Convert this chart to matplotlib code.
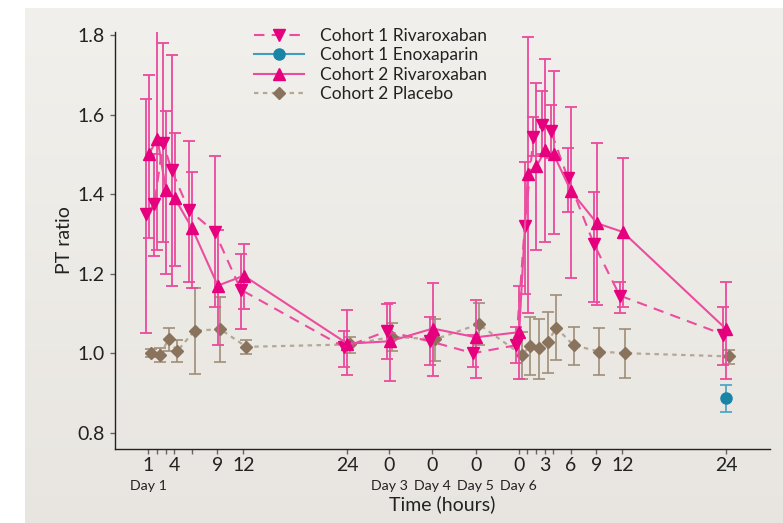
import matplotlib.pyplot as plt
import matplotlib.transforms as mtransforms
import numpy as np

plt.rcParams['font.family'] = ['Lato', 'DejaVu Sans']

# sampling times: study day and hour within that day
days = [1, 1, 1, 1, 1, 1, 1, 1, 3, 4, 5, 6, 6, 6, 6, 6, 6, 6, 6, 6]
hours = [1, 2, 3, 4, 6, 9, 12, 24, 0, 0, 0, 0, 1, 2, 3, 4, 6, 9, 12, 24]

# PT ratio, mean with lower / upper end of the error bar
c1_riva = [1.35, 1.375, 1.53, 1.46, 1.36, 1.305, 1.16, 1.015, 1.055, 1.03, 1.0,
           1.02, 1.32, 1.545, 1.575, 1.56, 1.44, 1.275, 1.145, 1.047]
c1_riva_lo = [1.05, 1.245, 1.28, 1.17, 1.18, 1.115, 1.06, 0.965, 0.985, 0.97, 0.965,
              0.975, 1.15, 1.495, 1.50, 1.49, 1.355, 1.13, 1.10, 0.97]
c1_riva_hi = [1.64, 1.50, 1.78, 1.75, 1.535, 1.495, 1.25, 1.055, 1.125, 1.09, 1.045,
              1.065, 1.48, 1.595, 1.66, 1.625, 1.515, 1.405, 1.18, 1.115]

c2_riva = [1.50, 1.54, 1.41, 1.39, 1.315, 1.17, 1.195, 1.024, 1.03, 1.062, 1.04,
           1.053, 1.45, 1.47, 1.51, 1.50, 1.408, 1.327, 1.305, 1.06]
c2_riva_lo = [1.29, 1.26, 1.20, 1.22, 1.165, 1.02, 1.11, 0.945, 0.93, 0.942, 0.938,
              0.935, 1.10, 1.26, 1.28, 1.30, 1.19, 1.12, 1.115, 0.936]
c2_riva_hi = [1.70, 1.82, 1.61, 1.555, 1.455, 1.31, 1.275, 1.108, 1.126, 1.176, 1.135,
              1.168, 1.795, 1.68, 1.74, 1.71, 1.62, 1.53, 1.49, 1.18]

placebo = [1.0, 0.996, 1.035, 1.005, 1.057, 1.06, 1.016, 1.022, 1.041, 1.035, 1.073,
           0.996, 1.018, 1.012, 1.028, 1.064, 1.02, 1.004, 1.0, 0.992]
placebo_lo = [0.99, 0.977, 1.005, 0.978, 0.948, 0.979, 0.998, 1.0, 1.005, 0.98, 1.02,
              0.936, 0.944, 0.936, 0.95, 0.984, 0.971, 0.944, 0.938, 0.973]
placebo_hi = [1.01, 1.013, 1.063, 1.032, 1.164, 1.142, 1.032, 1.041, 1.075, 1.086, 1.126,
              1.053, 1.091, 1.086, 1.103, 1.146, 1.067, 1.063, 1.061, 1.009]

enox_day, enox_hour = [6], [24]
enox = [0.888]
enox_lo = [0.852]
enox_hi = [0.921]

major_ticks = [(1, 1), (1, 4), (1, 9), (1, 12), (1, 24), (3, 0), (4, 0), (5, 0),
               (6, 0), (6, 3), (6, 6), (6, 9), (6, 12), (6, 24)]
minor_ticks = [(1, 2), (1, 3), (1, 6), (6, 1), (6, 2), (6, 4)]
day_labels = [(1, 1), (3, 0), (4, 0), (5, 0), (6, 0)]


def xpos(day, hour, shift=0.0):
    # hours run on a linear scale inside day 1 and day 6, days 3-5 are squeezed
    if day == 1:
        return hour + shift
    return 28.9 + (day - 3) * 5.0 + hour + shift


def errs(y, lo, hi):
    y = np.array(y)
    return [y - np.array(lo), np.array(hi) - y]


fig = plt.figure(figsize=(7.83, 5.23), dpi=100, facecolor='white')

# grey panel with a soft vertical gradient
bg = fig.add_axes([25 / 783, 0, 758 / 783, 515 / 523], zorder=0)
top = np.array([0.946, 0.941, 0.925])
bottom = np.array([0.912, 0.900, 0.880])
grad = np.linspace(0, 1, 256)[:, None, None]
bg.imshow(top + (bottom - top) * grad, aspect='auto', extent=[0, 1, 0, 1])
bg.axis('off')

ax = fig.add_axes([115 / 783, 74 / 523, 655 / 783, 417 / 523], zorder=1)
ax.patch.set_alpha(0)

pink = '#e6007e'
pink_line = '#ec4c9f'
pink_bar = '#ea4a9c'
brown = '#8a735c'
brown_line = '#b5a795'
teal = '#1a84a6'

x_c1 = [xpos(d, h, -0.3) for d, h in zip(days, hours)]
x_c2 = [xpos(d, h, 0.05) for d, h in zip(days, hours)]
x_pl = [xpos(d, h, 0.35) for d, h in zip(days, hours)]
x_en = [xpos(d, h) for d, h in zip(enox_day, enox_hour)]

ax.errorbar(x_pl, placebo, yerr=errs(placebo, placebo_lo, placebo_hi), fmt='none',
            ecolor='#a08d79', elinewidth=1.2, capsize=4, capthick=1.2, zorder=2)
ax.errorbar(x_c1, c1_riva, yerr=errs(c1_riva, c1_riva_lo, c1_riva_hi), fmt='none',
            ecolor=pink_bar, elinewidth=1.3, capsize=4, capthick=1.3, zorder=3)
ax.errorbar(x_c2, c2_riva, yerr=errs(c2_riva, c2_riva_lo, c2_riva_hi), fmt='none',
            ecolor=pink_bar, elinewidth=1.3, capsize=4, capthick=1.3, zorder=3)
ax.errorbar(x_en, enox, yerr=errs(enox, enox_lo, enox_hi), fmt='none',
            ecolor='#4fa6c4', elinewidth=1.3, capsize=4, capthick=1.3, zorder=3)

ax.plot(x_c1, c1_riva, ls='--', dashes=(5, 3.5), lw=1.5, color=pink_line, marker='v',
        ms=8, mfc=pink, mec=pink, label='Cohort 1 Rivaroxaban', zorder=4)
ax.plot(x_en, enox, ls='-', lw=1.5, color='#3c9fc0', marker='o', ms=8,
        mfc=teal, mec=teal, label='Cohort 1 Enoxaparin', zorder=4)
ax.plot(x_c2, c2_riva, ls='-', lw=1.5, color=pink_line, marker='^', ms=8,
        mfc=pink, mec=pink, label='Cohort 2 Rivaroxaban', zorder=4)
ax.plot(x_pl, placebo, ls='--', dashes=(2, 2), lw=1.6, color=brown_line, marker='D',
        ms=6, mfc=brown, mec=brown, label='Cohort 2 Placebo', zorder=2.5)

ax.set_xlim(-2.86, 73)
ax.set_ylim(0.759, 1.808)
ax.set_yticks([0.8, 1.0, 1.2, 1.4, 1.6, 1.8])
ax.set_yticklabels(['0.8', '1.0', '1.2', '1.4', '1.6', '1.8'])
ax.set_xticks([xpos(d, h) for d, h in major_ticks])
ax.set_xticklabels([str(h) for d, h in major_ticks])
ax.set_xticks([xpos(d, h) for d, h in minor_ticks], minor=True)

for side in ['top', 'right']:
    ax.spines[side].set_visible(False)
for side in ['left', 'bottom']:
    ax.spines[side].set_color('#222222')
    ax.spines[side].set_linewidth(1.0)

ax.tick_params(axis='both', which='both', direction='out', color='#666666', width=1.0)
ax.tick_params(axis='y', which='major', length=3.6, pad=4, labelsize=14, labelcolor='#222222')
ax.tick_params(axis='x', which='major', length=3.6, pad=2.5, labelsize=14, labelcolor='#222222')
ax.tick_params(axis='x', which='minor', length=3.6)

trans = mtransforms.blended_transform_factory(ax.transData, ax.transAxes)
for d, h in day_labels:
    ax.text(xpos(d, h), -0.089, f'Day {d}', transform=trans, ha='center', va='center',
            fontsize=10.2, color='#222222')

ax.set_xlabel('Time (hours)', fontsize=14, color='#222222')
ax.xaxis.set_label_coords(0.5, -0.112)
ax.set_ylabel('PT ratio', fontsize=14, color='#222222')
ax.yaxis.set_label_coords(-0.064, 0.5)

ax.legend(loc='upper left', bbox_to_anchor=(254 / 783, 1 - 28 / 523),
          bbox_transform=fig.transFigure, frameon=False, fontsize=12.5,
          handlelength=2.9, handletextpad=0.9, labelspacing=0.2,
          borderpad=0, borderaxespad=0, labelcolor='#222222')

fig.savefig('out.png', dpi=100, facecolor='white')
